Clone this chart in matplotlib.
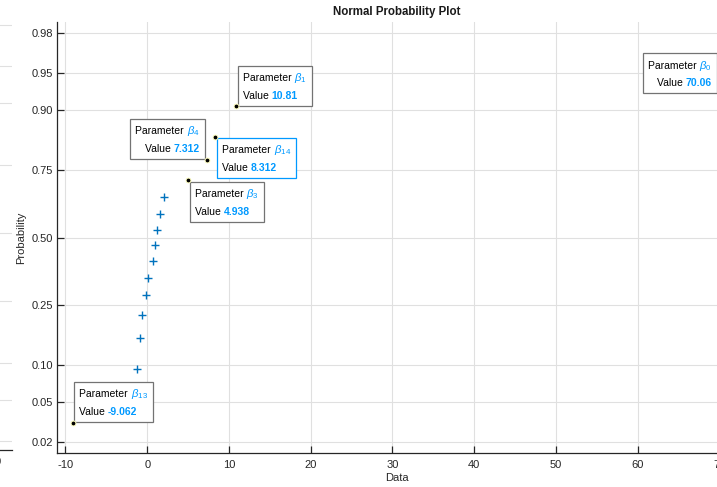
import matplotlib
matplotlib.use('Agg')
import matplotlib.pyplot as plt
from matplotlib.offsetbox import TextArea, HPacker, VPacker, AnnotationBbox
from statistics import NormalDist

plt.rcParams['font.family'] = ['Liberation Sans', 'DejaVu Sans']
plt.rcParams['mathtext.fontset'] = 'custom'
plt.rcParams['mathtext.rm'] = 'Liberation Sans'
plt.rcParams['mathtext.it'] = 'Liberation Sans:italic'

# ---------------- data ----------------
tip_names = ['0', '1', '4', '14', '3', '13']
tip_values = [70.06, 10.81, 7.312, 8.312, 4.938, -9.062]
tip_labels = ['70.06', '10.81', '7.312', '8.312', '4.938', '-9.062']
other_values = [-1.31, -0.86, -0.61, -0.17, 0.07, 0.65, 0.93, 1.18, 1.54, 2.03]

prob_ticks = [0.02, 0.05, 0.10, 0.25, 0.50, 0.75, 0.90, 0.95, 0.98]
prob_tick_labels = ['0.02', '0.05', '0.10', '0.25', '0.50', '0.75', '0.90', '0.95', '0.98']
x_ticks = [-10, 0, 10, 20, 30, 40, 50, 60, 70]
x_tick_labels = ['-10', '0', '10', '20', '30', '40', '50', '60', '70']
side_x_tick_labels = ['0']

title = 'Normal Probability Plot'
xlabel = 'Data'
ylabel = 'Probability'

# ---------------- style ----------------
DARK = (0.15, 0.15, 0.15)
GRID = '#e0e0e0'
BLUE = (0.0, 0.6, 1.0)
MARK = (0.0, 0.447, 0.741)
FS = 8
TFS = 7.5
PAD = 0.5
pad_px = PAD * TFS * 100 / 72

nd = NormalDist()
all_vals = sorted(other_values + tip_values)
n = len(all_vals)
zpos = {}
for i, v in enumerate(all_vals):
    zpos[v] = nd.inv_cdf((i + 0.5) / n)

W, H = 717, 487
fig = plt.figure(figsize=(W / 100, H / 100), dpi=100)

# partial neighbouring axes at far left
ax0 = fig.add_axes([-200 / W, (H - 450) / H, 212 / W, 434 / H])
ax0.set_ylim(-2.138, 2.138)
ax0.set_xlim(0, 1)
ax0.set_yticks([nd.inv_cdf(p) for p in prob_ticks])
ax0.set_yticklabels([])
ax0.tick_params(axis='y', length=0)
ax0.set_xticks([0.934])
ax0.set_xticklabels(side_x_tick_labels, fontsize=FS, color=DARK)
ax0.tick_params(axis='x', length=0, pad=5)
ax0.grid(axis='y', color=GRID, lw=0.8)
for s in ['top', 'right', 'left']:
    ax0.spines[s].set_visible(False)
ax0.spines['bottom'].set_color(DARK)
ax0.spines['bottom'].set_linewidth(0.9)

# main axes
ax = fig.add_axes([57 / W, 34 / H, 679 / W, 431 / H])
ax.set_xlim(-11.04, 72.04)
ax.set_ylim(-2.161, 2.161)

ax.plot(other_values, [zpos[v] for v in other_values], '+', color=MARK,
        ms=5.5, mew=1.0, zorder=3)

ax.set_yticks([nd.inv_cdf(p) for p in prob_ticks])
ax.set_yticklabels(prob_tick_labels)
ax.set_xticks(x_ticks)
ax.set_xticklabels(x_tick_labels)
ax.tick_params(direction='in', length=4.8, width=0.9, colors=DARK,
               labelsize=FS)
ax.tick_params(axis='y', pad=3)
ax.tick_params(axis='x', pad=5)
ax.grid(True, color=GRID, lw=0.8, zorder=0)
ax.set_axisbelow(True)
for s in ['top', 'right']:
    ax.spines[s].set_visible(False)
for s in ['left', 'bottom']:
    ax.spines[s].set_color(DARK)
    ax.spines[s].set_linewidth(0.9)

ax.set_title(title, fontsize=8.3, fontweight='bold', color=(0.1, 0.1, 0.1), pad=5)
ax.set_xlabel(xlabel, fontsize=FS, color=DARK, labelpad=2)
ax.set_ylabel(ylabel, fontsize=FS, color=DARK, labelpad=4)

# data tips: name -> (box alignment, gap in pixels, edge colour, text align)
GREY = (0.45, 0.45, 0.45)
tip_style = {
    '0': ((1, 1), (-2.6, -1.7), GREY, 'right'),
    '1': ((0, 0), (2, 0), GREY, 'left'),
    '4': ((1, 0), (-2, 1), GREY, 'right'),
    '14': ((0, 1), (2, -1), BLUE, 'left'),
    '3': ((0, 1), (2, -2), GREY, 'left'),
    '13': ((0, 0), (1, 1), GREY, 'left'),
}

for name, val, lab in zip(tip_names, tip_values, tip_labels):
    z = zpos[val]
    align, gap, edge, talign = tip_style[name]
    sx = 1 if align[0] == 0 else -1
    sy = 1 if align[1] == 0 else -1
    off = (gap[0] + sx * pad_px, gap[1] + sy * pad_px)
    tp = dict(color='black', fontsize=TFS)
    l1 = HPacker(children=[TextArea('Parameter ', textprops=tp),
                           TextArea(r'$\beta_{%s}$' % name,
                                    textprops=dict(color=BLUE, fontsize=TFS + 0.6))],
                 align='baseline', pad=0, sep=0)
    l2 = HPacker(children=[TextArea('Value ', textprops=tp),
                           TextArea(lab, textprops=dict(color=BLUE, fontsize=TFS,
                                                        fontweight='bold'))],
                 align='baseline', pad=0, sep=0)
    box = VPacker(children=[l1, l2], align=talign, pad=0, sep=4)
    ab = AnnotationBbox(box, (val, z), xycoords='data', xybox=off,
                        boxcoords='offset pixels', box_alignment=align,
                        frameon=True, pad=PAD, fontsize=TFS,
                        bboxprops=dict(edgecolor=edge, facecolor='white', lw=0.9),
                        annotation_clip=False, zorder=5)
    ax.add_artist(ab)
    ax.plot([val], [z], 'o', ms=3.5, mfc='black', mec=(1, 1, 0.75), mew=0.7,
            zorder=6, clip_on=False)

fig.savefig('out.png', dpi=100)
